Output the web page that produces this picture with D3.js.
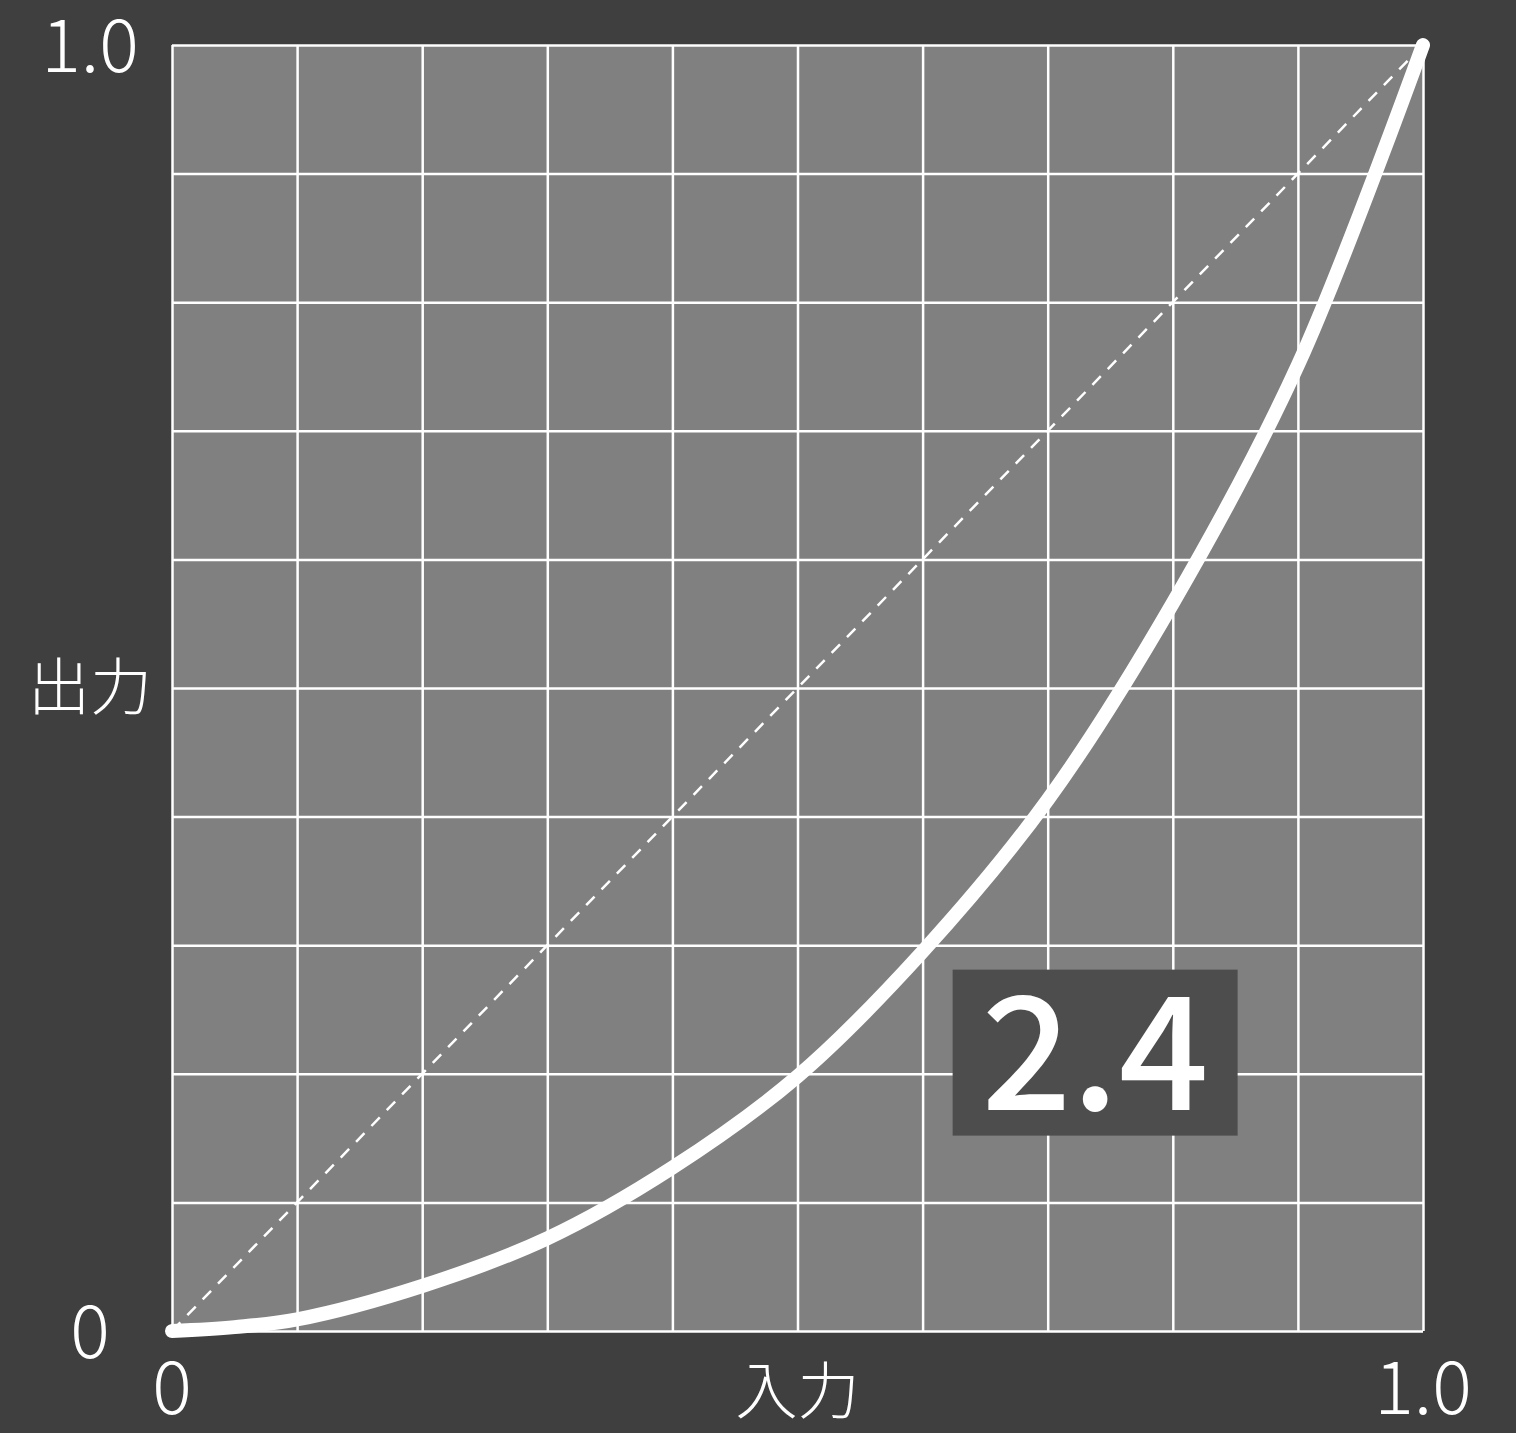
<!DOCTYPE html>
<html>
<head>
<meta charset="utf-8">
<script src="https://cdn.jsdelivr.net/npm/d3@7"></script>
<style>
    html, body { margin: 0; padding: 0; background: #3f3f3f; }
    svg { display: block; }
    .grid line, .grid path { stroke: #ffffff; stroke-width: 2.5; }
    .tick-label, .axis-title { fill: #ffffff; font-family: "Noto Sans CJK JP", "Noto Sans", sans-serif; font-weight: 300; }
</style>
</head>
<body>
<div id="graphic"></div>
<script>
// curve values (input -> output)
const inputs = [0, 0.05, 0.1, 0.2, 0.3, 0.4, 0.5, 0.6, 0.7, 0.8, 0.9, 1.0];
const outputs = [0, 0.003, 0.009, 0.035, 0.072, 0.127, 0.198, 0.295, 0.413, 0.566, 0.751, 1.0];
const tickLabels = ['0', '1.0'];
const axisTitles = { x: '入力', y: '出力' };
const gammaLabel = '2.4';

const width = 1516, height = 1433;
const margin = { top: 45, right: 93, bottom: 102, left: 172 };
const chartWidth = width - margin.left - margin.right;
const chartHeight = height - margin.top - margin.bottom;

const svg = d3.select('#graphic').append('svg')
    .attr('width', width)
    .attr('height', height);

svg.append('rect').attr('width', width).attr('height', height).attr('fill', '#3f3f3f');

const g = svg.append('g').attr('transform', `translate(${margin.left},${margin.top})`);

const x = d3.scaleLinear().domain([0, 1]).range([0, chartWidth]);
const y = d3.scaleLinear().domain([0, 1]).range([chartHeight, 0]);

g.append('rect')
    .attr('width', chartWidth)
    .attr('height', chartHeight)
    .attr('fill', '#808080');

// grid lines, every 0.1
const ticks = d3.range(0, 11).map((i) => i / 10);

g.append('g')
    .attr('class', 'grid')
    .attr('transform', `translate(0,${chartHeight})`)
    .call(d3.axisBottom(x).tickValues(ticks).tickSize(-chartHeight).tickFormat('').tickSizeOuter(0))
    .select('.domain').remove();

g.append('g')
    .attr('class', 'grid')
    .call(d3.axisLeft(y).tickValues(ticks).tickSize(-chartWidth).tickFormat('').tickSizeOuter(0))
    .select('.domain').remove();

// dashed identity line
g.append('line')
    .attr('x1', x(0)).attr('y1', y(0))
    .attr('x2', x(1)).attr('y2', y(1))
    .attr('stroke', '#ffffff')
    .attr('stroke-width', 2.5)
    .attr('stroke-dasharray', '12,10');

// gamma curve
const line = d3.line()
    .x((d) => x(d[0]))
    .y((d) => y(d[1]))
    .curve(d3.curveCatmullRom.alpha(0.5));

g.append('path')
    .datum(inputs.map((v, i) => [v, outputs[i]]))
    .attr('d', line)
    .attr('fill', 'none')
    .attr('stroke', '#ffffff')
    .attr('stroke-width', 14)
    .attr('stroke-linecap', 'round')
    .attr('stroke-linejoin', 'round');

// gamma label box
const box = g.append('g').attr('transform', `translate(${x(0.624)},${y(0.281)})`);
box.append('rect')
    .attr('width', 285)
    .attr('height', 166)
    .attr('fill', '#4d4d4d');
box.append('text')
    .attr('x', 142.5)
    .attr('y', 83)
    .attr('dy', '0.36em')
    .attr('text-anchor', 'middle')
    .attr('fill', '#ffffff')
    .style('font-family', '"Noto Sans CJK JP", "Noto Sans", sans-serif')
    .style('font-weight', 500)
    .style('font-size', '158px')
    .text(gammaLabel);

// y tick labels
[0, 1].forEach((v, i) => {
    g.append('text')
        .attr('class', 'tick-label')
        .attr('x', 90 - margin.left)
        .attr('y', y(v))
        .attr('dy', '0.36em')
        .attr('text-anchor', 'middle')
        .style('font-size', '74px')
        .text(tickLabels[i]);
});

// x tick labels
[0, 1].forEach((v, i) => {
    g.append('text')
        .attr('class', 'tick-label')
        .attr('x', x(v))
        .attr('y', chartHeight + 83)
        .attr('text-anchor', 'middle')
        .style('font-size', '74px')
        .text(tickLabels[i]);
});

// axis titles
g.append('text')
    .attr('class', 'axis-title')
    .attr('x', x(0.5))
    .attr('y', chartHeight + 83)
    .attr('text-anchor', 'middle')
    .style('font-size', '62px')
    .text(axisTitles.x);

g.append('text')
    .attr('class', 'axis-title')
    .attr('x', 90 - margin.left)
    .attr('y', y(0.5))
    .attr('dy', '0.36em')
    .attr('text-anchor', 'middle')
    .style('font-size', '62px')
    .text(axisTitles.y);
</script>
</body>
</html>
